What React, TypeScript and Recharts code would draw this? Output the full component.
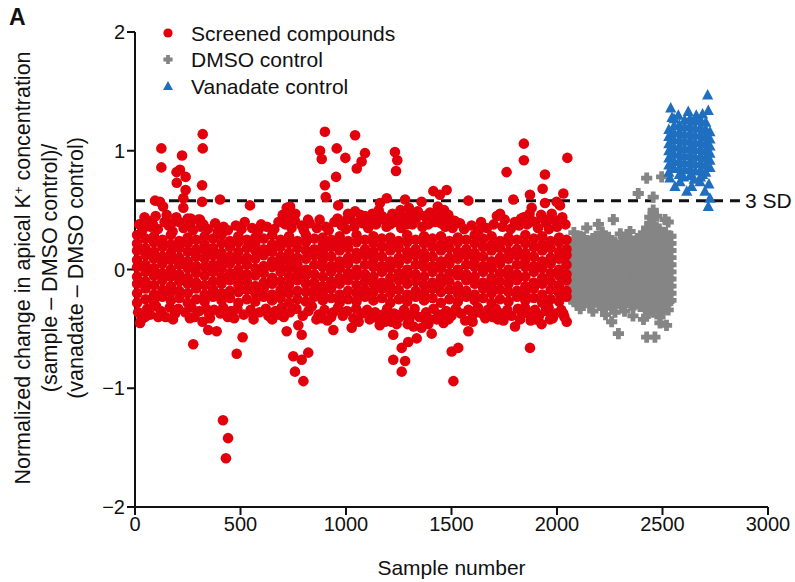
import React from 'react';
import {
  ScatterChart, Scatter, XAxis, YAxis, ReferenceLine,
} from 'recharts';

// Screened compounds: dense core, read column by column (x = sample number)
const redCoreX = [
  10, 50, 90, 130, 170, 210, 250, 290, 330, 370, 410, 450, 490, 530, 570, 610, 650, 690,
  730, 770, 810, 850, 890, 930, 970, 1010, 1050, 1090, 1130, 1170, 1210, 1250, 1290, 1330,
  1370, 1410, 1450, 1490, 1530, 1570, 1610, 1650, 1690, 1730, 1770, 1810, 1850, 1890, 1930,
  1970, 2010, 2045,
];
const redCoreY = [
  [-0.28, -0.2, -0.12, -0.06, 0.02, 0.08, 0.16, 0.22, 0.29],
  [-0.25, -0.16, -0.1, -0.02, 0.04, 0.12, 0.18, 0.26],
  [-0.27, -0.21, -0.13, -0.05, 0.01, 0.09, 0.15, 0.23, 0.28],
  [-0.23, -0.17, -0.09, -0.03, 0.05, 0.11, 0.19, 0.25],
  [-0.26, -0.19, -0.14, -0.06, 0.0, 0.08, 0.14, 0.21, 0.29],
  [-0.24, -0.18, -0.1, -0.04, 0.04, 0.1, 0.18, 0.24],
  [-0.28, -0.2, -0.12, -0.07, 0.01, 0.07, 0.15, 0.22, 0.27],
  [-0.25, -0.16, -0.11, -0.03, 0.03, 0.11, 0.17, 0.25],
  [-0.27, -0.21, -0.13, -0.05, 0.02, 0.09, 0.16, 0.21, 0.28],
  [-0.23, -0.17, -0.1, -0.02, 0.04, 0.12, 0.18, 0.26],
  [-0.26, -0.2, -0.12, -0.06, 0.01, 0.08, 0.14, 0.22, 0.29],
  [-0.24, -0.18, -0.09, -0.03, 0.05, 0.11, 0.19, 0.24],
  [-0.28, -0.19, -0.13, -0.06, 0.0, 0.08, 0.15, 0.23, 0.28],
  [-0.25, -0.17, -0.1, -0.04, 0.04, 0.1, 0.18, 0.25],
  [-0.27, -0.2, -0.14, -0.05, 0.01, 0.09, 0.16, 0.22, 0.27],
  [-0.23, -0.16, -0.11, -0.03, 0.03, 0.12, 0.17, 0.26],
  [-0.26, -0.21, -0.12, -0.07, 0.02, 0.07, 0.15, 0.21, 0.29],
  [-0.24, -0.17, -0.1, -0.02, 0.05, 0.11, 0.19, 0.25],
  [-0.28, -0.2, -0.13, -0.06, 0.01, 0.08, 0.14, 0.22, 0.28],
  [-0.25, -0.18, -0.09, -0.03, 0.04, 0.1, 0.18, 0.24],
  [-0.27, -0.19, -0.12, -0.05, 0.0, 0.09, 0.16, 0.23, 0.29],
  [-0.23, -0.17, -0.11, -0.04, 0.04, 0.12, 0.17, 0.26],
  [-0.26, -0.2, -0.14, -0.06, 0.02, 0.08, 0.15, 0.21, 0.27],
  [-0.24, -0.16, -0.1, -0.02, 0.03, 0.11, 0.19, 0.25],
  [-0.28, -0.21, -0.12, -0.07, 0.01, 0.07, 0.16, 0.22, 0.28],
  [-0.25, -0.18, -0.09, -0.03, 0.05, 0.1, 0.18, 0.24],
  [-0.27, -0.2, -0.13, -0.05, 0.0, 0.09, 0.14, 0.23, 0.29],
  [-0.23, -0.17, -0.1, -0.04, 0.04, 0.12, 0.17, 0.25],
  [-0.26, -0.19, -0.12, -0.06, 0.02, 0.08, 0.15, 0.22, 0.28],
  [-0.24, -0.16, -0.11, -0.02, 0.03, 0.11, 0.19, 0.26],
  [-0.28, -0.2, -0.14, -0.07, 0.01, 0.07, 0.16, 0.21, 0.27],
  [-0.25, -0.17, -0.09, -0.03, 0.05, 0.1, 0.18, 0.24],
  [-0.27, -0.21, -0.12, -0.05, 0.0, 0.09, 0.15, 0.23, 0.29],
  [-0.23, -0.18, -0.1, -0.04, 0.04, 0.12, 0.17, 0.25],
  [-0.26, -0.2, -0.13, -0.06, 0.02, 0.08, 0.14, 0.22, 0.28],
  [-0.24, -0.16, -0.11, -0.02, 0.03, 0.11, 0.19, 0.26],
  [-0.28, -0.19, -0.12, -0.07, 0.01, 0.07, 0.16, 0.21, 0.28],
  [-0.25, -0.17, -0.1, -0.03, 0.05, 0.1, 0.18, 0.24],
  [-0.27, -0.2, -0.14, -0.05, 0.0, 0.09, 0.15, 0.23, 0.27],
  [-0.23, -0.18, -0.09, -0.04, 0.04, 0.12, 0.17, 0.25],
  [-0.26, -0.21, -0.12, -0.06, 0.02, 0.08, 0.14, 0.22, 0.29],
  [-0.24, -0.16, -0.11, -0.02, 0.03, 0.11, 0.19, 0.26],
  [-0.28, -0.2, -0.13, -0.07, 0.01, 0.07, 0.16, 0.21, 0.28],
  [-0.25, -0.17, -0.1, -0.03, 0.05, 0.1, 0.18, 0.24],
  [-0.27, -0.19, -0.12, -0.05, 0.0, 0.09, 0.15, 0.23, 0.27],
  [-0.23, -0.18, -0.09, -0.04, 0.04, 0.12, 0.17, 0.25],
  [-0.26, -0.2, -0.14, -0.06, 0.02, 0.08, 0.14, 0.22, 0.29],
  [-0.24, -0.16, -0.11, -0.02, 0.03, 0.11, 0.19, 0.26],
  [-0.28, -0.21, -0.12, -0.07, 0.01, 0.07, 0.16, 0.21, 0.28],
  [-0.25, -0.17, -0.1, -0.03, 0.05, 0.1, 0.18, 0.24],
  [-0.27, -0.2, -0.13, -0.05, 0.0, 0.09, 0.15, 0.23, 0.27],
  [-0.23, -0.18, -0.09, -0.04, 0.04, 0.12, 0.17, 0.25],
];

// scattered points along the upper and lower edge of the band
const redEdge = [
  [20, 0.38], [35, 0.33], [62, 0.41], [75, 0.36], [98, 0.45], [108, 0.34], [140, 0.4], [160, 0.37],
  [178, 0.32], [196, 0.44], [230, 0.35], [262, 0.38], [275, 0.33], [300, 0.42], [312, 0.36], [345, 0.34],
  [380, 0.39], [392, 0.32], [420, 0.36], [440, 0.33], [478, 0.37], [505, 0.34], [520, 0.4], [555, 0.35],
  [585, 0.33], [598, 0.38], [625, 0.36], [660, 0.34], [680, 0.4], [700, 0.46], [712, 0.38], [728, 0.44],
  [742, 0.35], [758, 0.41], [790, 0.37], [800, 0.33], [828, 0.39], [862, 0.35], [875, 0.42], [905, 0.36],
  [918, 0.33], [945, 0.4], [980, 0.37], [1000, 0.34], [1020, 0.43], [1040, 0.36], [1068, 0.46], [1080, 0.39],
  [1105, 0.35], [1118, 0.44], [1142, 0.38], [1155, 0.5], [1180, 0.42], [1192, 0.36], [1220, 0.47], [1240, 0.4],
  [1262, 0.35], [1280, 0.44], [1298, 0.52], [1315, 0.38], [1350, 0.46], [1362, 0.36], [1385, 0.42], [1398, 0.48],
  [1422, 0.4], [1435, 0.53], [1458, 0.44], [1470, 0.36], [1495, 0.42], [1505, 0.35], [1540, 0.39], [1560, 0.34],
  [1595, 0.37], [1630, 0.33], [1640, 0.4], [1668, 0.35], [1700, 0.38], [1715, 0.45], [1742, 0.36], [1752, 0.42],
  [1780, 0.34], [1800, 0.4], [1820, 0.37], [1842, 0.44], [1858, 0.38], [1880, 0.41], [1910, 0.35], [1925, 0.46],
  [1950, 0.39], [1962, 0.34], [1985, 0.42], [2000, 0.36], [2025, 0.44], [2040, 0.38],
  [1110, 0.4], [1125, 0.47], [1150, 0.41], [1170, 0.45], [1200, 0.43], [1210, 0.38], [1248, 0.44], [1258, 0.5],
  [1270, 0.41], [1290, 0.38], [1305, 0.46], [1330, 0.42], [1340, 0.49], [1372, 0.45], [1390, 0.38], [1410, 0.45],
  [1428, 0.47], [1450, 0.39], [1465, 0.5], [1485, 0.46], [1515, 0.41], [1830, 0.43], [1870, 0.47], [1895, 0.4],
  [1940, 0.42], [1975, 0.47], [2010, 0.41], [150, 0.46], [85, 0.38], [45, 0.44], [210, 0.4], [250, 0.43],
  [730, 0.48], [760, 0.47], [1060, 0.4], [1090, 0.45], [820, 0.42], [960, 0.43], [1010, 0.47],
  [15, -0.36], [30, -0.42], [58, -0.33], [72, -0.38], [100, -0.31], [122, -0.35], [145, -0.4], [165, -0.32],
  [190, -0.37], [205, -0.33], [238, -0.36], [268, -0.32], [282, -0.4], [305, -0.35], [338, -0.33], [352, -0.38],
  [375, -0.34], [405, -0.37], [418, -0.32], [455, -0.35], [470, -0.41], [485, -0.33], [515, -0.38], [548, -0.34],
  [562, -0.42], [590, -0.36], [620, -0.33], [632, -0.39], [665, -0.35], [695, -0.32], [705, -0.4], [735, -0.36],
  [765, -0.33], [795, -0.39], [822, -0.35], [838, -0.31], [870, -0.38], [898, -0.34], [912, -0.43], [940, -0.36],
  [962, -0.32], [985, -0.39], [1005, -0.35], [1035, -0.41], [1048, -0.33], [1075, -0.37], [1100, -0.34], [1112, -0.42],
  [1138, -0.36], [1160, -0.47], [1175, -0.38], [1195, -0.33], [1215, -0.44], [1228, -0.37], [1255, -0.4], [1275, -0.34],
  [1292, -0.46], [1310, -0.38], [1325, -0.33], [1348, -0.4], [1358, -0.49], [1380, -0.36], [1400, -0.42], [1415, -0.33],
  [1438, -0.38], [1462, -0.45], [1475, -0.35], [1500, -0.39], [1520, -0.33], [1545, -0.37], [1565, -0.43], [1580, -0.34],
  [1602, -0.38], [1625, -0.32], [1645, -0.37], [1672, -0.34], [1695, -0.4], [1710, -0.33], [1738, -0.37], [1765, -0.34],
  [1785, -0.39], [1815, -0.33], [1835, -0.37], [1848, -0.32], [1870, -0.38], [1895, -0.34], [1915, -0.39], [1945, -0.35],
  [1960, -0.32], [1990, -0.37], [2020, -0.34], [2035, -0.4],
  [1120, -0.38], [1150, -0.41], [1205, -0.4], [1240, -0.46], [1260, -0.38], [1300, -0.42], [1320, -0.48], [1370, -0.41],
  [1390, -0.46], [1430, -0.42], [1455, -0.38], [1485, -0.42], [1600, -0.44], [1660, -0.41], [1720, -0.42], [1760, -0.38],
  [1825, -0.42], [1900, -0.42], [1980, -0.41], [2030, -0.37], [110, -0.4], [180, -0.42], [260, -0.41], [320, -0.44],
  [440, -0.4], [560, -0.38], [650, -0.42], [680, -0.38], [860, -0.42], [930, -0.4], [1060, -0.44],
];

// hits and negative outliers
const redOutliers = [
  [321, 1.14], [125, 1.02], [321, 1.02], [223, 0.96], [125, 0.86], [197, 0.82], [213, 0.84], [240, 0.78],
  [198, 0.73], [240, 0.67], [318, 0.71], [229, 0.6], [229, 0.52], [318, 0.57], [403, 0.59], [95, 0.58],
  [118, 0.57], [133, 0.53], [545, 0.54], [264, 0.43], [308, 0.42], [324, 0.38], [55, 0.4], [174, 0.39],
  [719, 0.52], [735, 0.53], [900, 1.16], [1043, 1.13], [877, 1.0], [885, 0.93], [956, 1.02], [997, 0.94],
  [1051, 0.85], [953, 0.78], [900, 0.71], [904, 0.61], [963, 0.54], [1043, 0.49], [1003, 0.42], [1090, 0.98],
  [1074, 0.91], [1232, 0.99], [1243, 0.92], [1237, 0.83], [1414, 0.66], [1477, 0.67], [1445, 0.63], [1280, 0.59],
  [1193, 0.6], [1161, 0.56], [1580, 0.58], [1358, 0.57], [1761, 0.82], [1843, 1.06], [1843, 0.92], [1943, 0.8],
  [1932, 0.68], [2049, 0.94], [1793, 0.59], [1872, 0.63], [1880, 0.52], [1864, 0.45], [1943, 0.56], [1998, 0.57],
  [2030, 0.64], [2014, 0.54], [1730, 0.47],
  [24, -0.45], [47, -0.4], [355, -0.41], [347, -0.51], [387, -0.52], [276, -0.63], [510, -0.57], [482, -0.71],
  [719, -0.52], [790, -0.55], [774, -0.47], [750, -0.73], [790, -0.76], [821, -0.7], [758, -0.86], [798, -0.94],
  [417, -1.27], [441, -1.42], [431, -1.59], [1027, -0.49], [940, -0.51], [885, -0.41], [1185, -0.44], [1224, -0.55],
  [1264, -0.66], [1224, -0.76], [1280, -0.77], [1264, -0.86], [1295, -0.61], [1335, -0.58], [1406, -0.54], [1501, -0.69],
  [1532, -0.66], [1509, -0.94], [1580, -0.52], [1746, -0.43], [1801, -0.48], [1872, -0.66], [1875, -0.43], [1927, -0.46],
  [1967, -0.42], [2046, -0.44],
];

// DMSO control
const greyCoreX = [
  2065, 2080, 2095, 2110, 2125, 2140, 2155, 2170, 2185, 2200, 2215, 2230, 2245, 2260, 2275, 2290,
  2305, 2320, 2335, 2350, 2365, 2380, 2395, 2410, 2425, 2440, 2455, 2470, 2485, 2500, 2515, 2530, 2540,
];
const greyCoreY = [
  [-0.25, -0.2, -0.14, -0.08, -0.02, 0.04, 0.1, 0.16, 0.21],
  [-0.27, -0.22, -0.17, -0.11, -0.05, 0.01, 0.07, 0.13, 0.19, 0.24],
  [-0.29, -0.23, -0.17, -0.11, -0.05, 0.01, 0.07, 0.13, 0.19, 0.25],
  [-0.3, -0.24, -0.2, -0.14, -0.08, -0.02, 0.04, 0.1, 0.16, 0.22, 0.28],
  [-0.27, -0.21, -0.15, -0.09, -0.03, 0.03, 0.09, 0.15, 0.21, 0.27],
  [-0.28, -0.18, -0.12, -0.06, 0.0, 0.06, 0.12, 0.18, 0.24],
  [-0.3, -0.24, -0.18, -0.12, -0.06, 0.0, 0.06, 0.12, 0.18, 0.24],
  [-0.27, -0.21, -0.15, -0.09, -0.03, 0.03, 0.09, 0.15, 0.21, 0.26],
  [-0.27, -0.21, -0.15, -0.09, -0.03, 0.03, 0.09, 0.15, 0.21, 0.28],
  [-0.3, -0.24, -0.18, -0.12, -0.06, 0.0, 0.06, 0.12, 0.18, 0.25],
  [-0.33, -0.24, -0.18, -0.12, -0.06, 0.0, 0.06, 0.12, 0.18, 0.24, 0.31],
  [-0.27, -0.21, -0.15, -0.09, -0.03, 0.03, 0.09, 0.15, 0.21, 0.27],
  [-0.3, -0.21, -0.15, -0.09, -0.03, 0.03, 0.09, 0.15, 0.21, 0.27],
  [-0.32, -0.24, -0.18, -0.12, -0.06, 0.0, 0.06, 0.12, 0.18, 0.24],
  [-0.36, -0.24, -0.18, -0.12, -0.06, 0.0, 0.06, 0.12, 0.18, 0.23],
  [-0.28, -0.22, -0.16, -0.1, -0.04, 0.02, 0.08, 0.14, 0.2],
  [-0.31, -0.25, -0.19, -0.13, -0.07, -0.01, 0.05, 0.11, 0.17, 0.23],
  [-0.28, -0.22, -0.16, -0.1, -0.04, 0.02, 0.08, 0.14, 0.2, 0.25],
  [-0.28, -0.22, -0.16, -0.1, -0.04, 0.02, 0.08, 0.14, 0.2, 0.26],
  [-0.3, -0.25, -0.19, -0.13, -0.07, -0.01, 0.05, 0.11, 0.17, 0.23],
  [-0.3, -0.24, -0.18, -0.12, -0.06, 0.0, 0.06, 0.12, 0.18, 0.24],
  [-0.29, -0.21, -0.15, -0.09, -0.03, 0.03, 0.09, 0.15, 0.21, 0.26],
  [-0.27, -0.21, -0.15, -0.09, -0.03, 0.03, 0.09, 0.15, 0.21, 0.27],
  [-0.31, -0.24, -0.18, -0.12, -0.06, 0.0, 0.06, 0.12, 0.18, 0.24, 0.31],
  [-0.33, -0.26, -0.2, -0.14, -0.08, -0.02, 0.04, 0.1, 0.16, 0.22, 0.29, 0.35],
  [-0.34, -0.29, -0.23, -0.17, -0.11, -0.05, 0.01, 0.07, 0.13, 0.19, 0.25, 0.32, 0.39],
  [-0.36, -0.29, -0.23, -0.17, -0.11, -0.05, 0.01, 0.07, 0.13, 0.19, 0.25, 0.32, 0.38],
  [-0.33, -0.26, -0.2, -0.14, -0.08, -0.02, 0.04, 0.1, 0.16, 0.22, 0.28, 0.35],
  [-0.32, -0.26, -0.2, -0.14, -0.08, -0.02, 0.04, 0.1, 0.16, 0.22, 0.28, 0.34],
  [-0.3, -0.23, -0.17, -0.11, -0.05, 0.01, 0.07, 0.13, 0.19, 0.25, 0.31],
  [-0.29, -0.23, -0.17, -0.11, -0.05, 0.01, 0.07, 0.13, 0.19, 0.25, 0.31],
  [-0.27, -0.2, -0.14, -0.08, -0.02, 0.04, 0.1, 0.16, 0.22, 0.28],
  [-0.26, -0.2, -0.14, -0.08, -0.02, 0.04, 0.1, 0.16, 0.22, 0.28],
];
const greyExtra = [
  [2080, 0.31], [2141, 0.35], [2196, 0.38], [2267, 0.42], [2346, 0.32], [2300, 0.3], [2472, 0.45], [2527, 0.4],
  [2440, 0.44], [2456, 0.5], [2512, 0.42], [2385, 0.64], [2456, 0.61], [2425, 0.77], [2496, 0.78],
  [2291, -0.54], [2425, -0.57], [2464, -0.57], [2259, -0.44], [2488, -0.45], [2519, -0.47], [2393, -0.31],
  [2433, -0.37], [2488, -0.4], [2527, -0.34], [2110, -0.33], [2170, -0.35], [2230, -0.38], [2320, -0.35],
  [2360, -0.39], [2410, -0.42], [2500, -0.36],
];

// Vanadate control
const blueCoreX = [2530, 2555, 2580, 2605, 2630, 2655, 2680, 2705, 2725];
const blueCoreY = [
  [0.82, 0.88, 0.94, 1.0, 1.06, 1.12, 1.18],
  [0.85, 0.91, 0.97, 1.03, 1.09, 1.15, 1.21, 1.27],
  [0.8, 0.86, 0.92, 0.98, 1.04, 1.1, 1.16, 1.22],
  [0.84, 0.9, 0.96, 1.02, 1.08, 1.14, 1.2, 1.26],
  [0.79, 0.85, 0.91, 0.97, 1.03, 1.09, 1.15, 1.21, 1.27],
  [0.83, 0.89, 0.95, 1.01, 1.07, 1.13, 1.19, 1.25],
  [0.78, 0.84, 0.9, 0.96, 1.02, 1.08, 1.14, 1.2, 1.26],
  [0.82, 0.88, 0.94, 1.0, 1.06, 1.12, 1.18, 1.24],
  [0.86, 0.92, 0.98, 1.04, 1.1, 1.16],
];
const blueExtra = [
  [2714, 1.47], [2539, 1.36], [2622, 1.33], [2717, 1.34], [2660, 1.3], [2690, 1.31], [2545, 1.28], [2575, 1.3],
  [2535, 0.77], [2559, 0.7], [2615, 0.66], [2638, 0.7], [2678, 0.74], [2701, 0.66], [2725, 0.6], [2717, 0.53],
  [2583, 0.74], [2600, 0.78], [2650, 0.76], [2720, 0.72], [2690, 0.8],
];

const xTicks = [0, 500, 1000, 1500, 2000, 2500, 3000];
const yTicks = [-2, -1, 0, 1, 2];
const threeSD = 0.58;

const RED = '#e1000b';
const GREY = '#858585';
const BLUE = '#1f6fc0';
const FONT = '"Liberation Sans", Arial, sans-serif';

const fromColumns = (xs: number[], ys: number[][]) =>
  xs.flatMap((x, i) => ys[i].map((y) => ({ x, y })));
const fromPairs = (pairs: number[][]) => pairs.map(([x, y]) => ({ x, y }));

const redData = [...fromColumns(redCoreX, redCoreY), ...fromPairs(redEdge), ...fromPairs(redOutliers)];
const greyData = [...fromColumns(greyCoreX, greyCoreY), ...fromPairs(greyExtra)];
const blueData = [...fromColumns(blueCoreX, blueCoreY), ...fromPairs(blueExtra)];

const Dot = ({ cx, cy }: any) => <circle cx={cx} cy={cy} r={5.3} fill={RED} />;

const plusPath = (cx: number, cy: number, a: number, t: number) =>
  `M${cx - t},${cy - a}H${cx + t}V${cy - t}H${cx + a}V${cy + t}H${cx + t}V${cy + a}H${cx - t}V${cy + t}H${cx - a}V${cy - t}H${cx - t}Z`;

const Cross = ({ cx, cy }: any) => <path d={plusPath(cx, cy, 5.6, 2.4)} fill={GREY} />;

const Tri = ({ cx, cy }: any) => (
  <path d={`M${cx},${cy - 6}L${cx + 5.6},${cy + 4.5}L${cx - 5.6},${cy + 4.5}Z`} fill={BLUE} />
);

const legendItems = [
  { label: 'Screened compounds', kind: 'dot' },
  { label: 'DMSO control', kind: 'cross' },
  { label: 'Vanadate control', kind: 'tri' },
];

const LegendBox = () => (
  <svg width={300} height={90} style={{ position: 'absolute', left: 150, top: 15 }}>
    {legendItems.map((it, i) => {
      const cy = 18 + i * 26.5;
      return (
        <g key={it.label}>
          {it.kind === 'dot' && <circle cx={18} cy={cy} r={4.6} fill={RED} />}
          {it.kind === 'cross' && <path d={plusPath(18, cy, 4.6, 1.9)} fill={GREY} />}
          {it.kind === 'tri' && <path d={`M18,${cy - 5}L23,${cy + 4}L13,${cy + 4}Z`} fill={BLUE} />}
          <text x={41} y={cy + 7.5} fontSize={21} fontFamily={FONT} fill="#111">{it.label}</text>
        </g>
      );
    })}
  </svg>
);

const YLabel = () => (
  <text transform="rotate(-90)" textAnchor="middle" fontSize={21.5} fontFamily={FONT} fill="#111">
    <tspan x={-268} y={30}>
      Normalized change in apical K<tspan dy={-7} fontSize={13}>+</tspan>
      <tspan dy={7}> concentration</tspan>
    </tspan>
    <tspan x={-268} y={57}>(sample – DMSO control)/</tspan>
    <tspan x={-268} y={83}>(vanadate – DMSO control)</tspan>
  </text>
);

const fmt = (v: number) => (v < 0 ? `−${Math.abs(v)}` : `${v}`);

export default function App() {
  return (
    <div style={{ position: 'absolute', left: 0, top: 0, width: 795, height: 582, background: '#fff' }}>
      <div style={{ position: 'absolute', left: 9, top: 4, fontFamily: FONT, fontWeight: 700, fontSize: 23, color: '#111' }}>A</div>
      <ScatterChart width={795} height={582} margin={{ top: 32, right: 27, bottom: 35, left: 75 }}>
        <XAxis
          type="number"
          dataKey="x"
          domain={[0, 3000]}
          ticks={xTicks}
          tickSize={8}
          stroke="#111"
          strokeWidth={2}
          height={40}
          tick={{ fill: '#111', fontSize: 20, fontFamily: FONT }}
          label={{ value: 'Sample number', position: 'insideBottom', offset: -28, fill: '#111', fontSize: 21, fontFamily: FONT }}
        />
        <YAxis
          type="number"
          dataKey="y"
          domain={[-2, 2]}
          ticks={yTicks}
          tickSize={8}
          stroke="#111"
          strokeWidth={2}
          width={60}
          tickFormatter={fmt}
          tick={{ fill: '#111', fontSize: 20, fontFamily: FONT }}
          label={<YLabel />}
        />
        <Scatter name="DMSO control" data={greyData} shape={<Cross />} isAnimationActive={false} />
        <Scatter name="Screened compounds" data={redData} shape={<Dot />} isAnimationActive={false} />
        <Scatter name="Vanadate control" data={blueData} shape={<Tri />} isAnimationActive={false} />
        <ReferenceLine
          segment={[{ x: 0, y: threeSD }, { x: 2867, y: threeSD }]}
          stroke="#111"
          strokeWidth={3}
          strokeDasharray="10 7"
          label={{ value: '3 SD', position: 'right', fill: '#111', fontSize: 21, fontFamily: FONT }}
        />
      </ScatterChart>
      <LegendBox />
    </div>
  );
}
